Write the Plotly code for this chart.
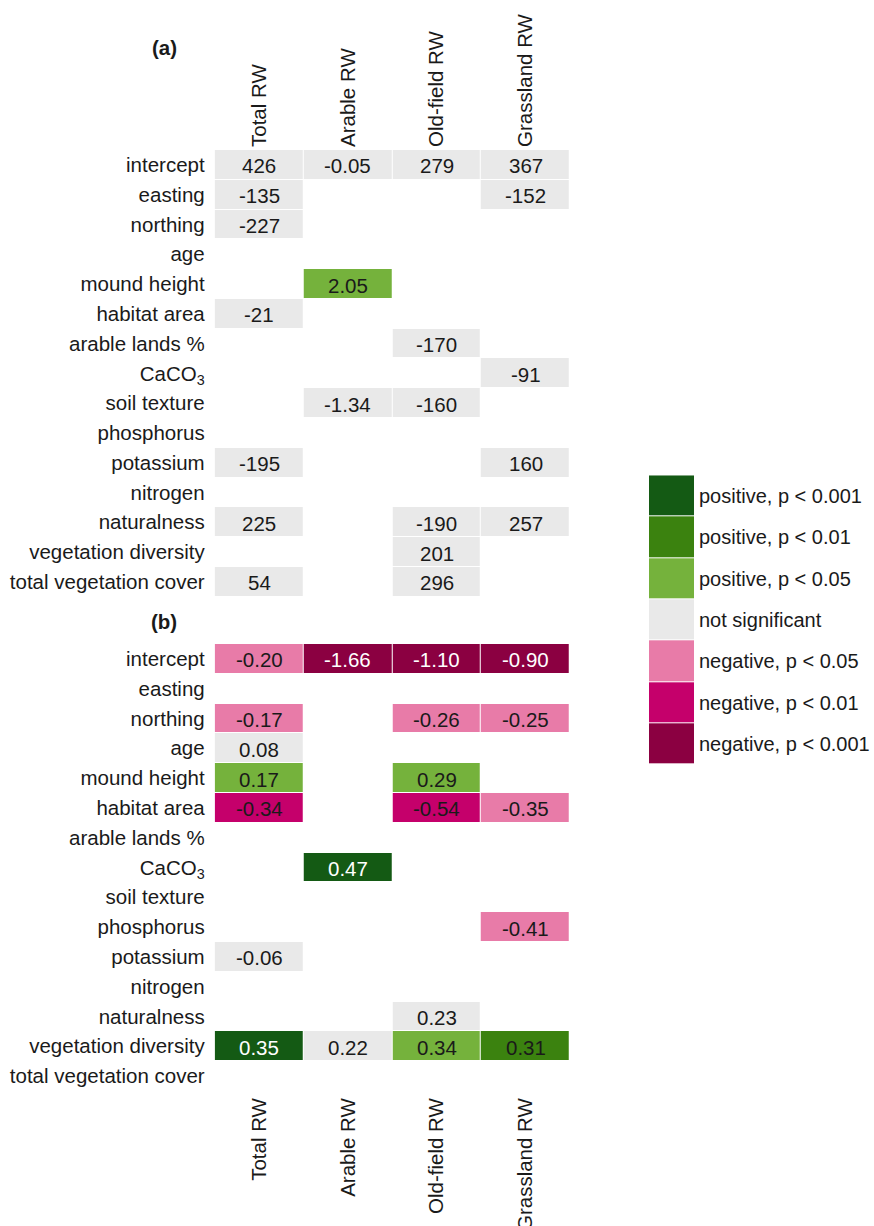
import plotly.graph_objects as go

# Response variables (columns) and model predictors (rows)
responses = ["Total RW", "Arable RW", "Old-field RW", "Grassland RW"]
predictors = [
    "intercept", "easting", "northing", "age", "mound height", "habitat area",
    "arable lands %", "CaCO<sub>3</sub>", "soil texture", "phosphorus",
    "potassium", "nitrogen", "naturalness", "vegetation diversity",
    "total vegetation cover",
]

# Significance classes: sign * level (3: p<0.001, 2: p<0.01, 1: p<0.05, 0: n.s.)
signif_labels = [
    "positive, p < 0.001", "positive, p < 0.01", "positive, p < 0.05",
    "not significant",
    "negative, p < 0.05", "negative, p < 0.01", "negative, p < 0.001",
]
signif_codes = [3, 2, 1, 0, -1, -2, -3]
signif_colors = ["#145a14", "#3b820f", "#75b23c", "#e9e9e9",
                 "#e87ba8", "#c5006b", "#8b0041"]

# Panel (a): model coefficients, None = predictor not retained
a_coef = [
    [426, -0.05, 279, 367],
    [-135, None, None, -152],
    [-227, None, None, None],
    [None, None, None, None],
    [None, 2.05, None, None],
    [-21, None, None, None],
    [None, None, -170, None],
    [None, None, None, -91],
    [None, -1.34, -160, None],
    [None, None, None, None],
    [-195, None, None, 160],
    [None, None, None, None],
    [225, None, -190, 257],
    [None, None, 201, None],
    [54, None, 296, None],
]
a_signif = [
    [0, 0, 0, 0],
    [0, None, None, 0],
    [0, None, None, None],
    [None, None, None, None],
    [None, 1, None, None],
    [0, None, None, None],
    [None, None, 0, None],
    [None, None, None, 0],
    [None, 0, 0, None],
    [None, None, None, None],
    [0, None, None, 0],
    [None, None, None, None],
    [0, None, 0, 0],
    [None, None, 0, None],
    [0, None, 0, None],
]

# Panel (b)
b_coef = [
    [-0.20, -1.66, -1.10, -0.90],
    [None, None, None, None],
    [-0.17, None, -0.26, -0.25],
    [0.08, None, None, None],
    [0.17, None, 0.29, None],
    [-0.34, None, -0.54, -0.35],
    [None, None, None, None],
    [None, 0.47, None, None],
    [None, None, None, None],
    [None, None, None, -0.41],
    [-0.06, None, None, None],
    [None, None, None, None],
    [None, None, 0.23, None],
    [0.35, 0.22, 0.34, 0.31],
    [None, None, None, None],
]
b_signif = [
    [-1, -3, -3, -3],
    [None, None, None, None],
    [-1, None, -1, -1],
    [0, None, None, None],
    [1, None, 1, None],
    [-2, None, -2, -1],
    [None, None, None, None],
    [None, 3, None, None],
    [None, None, None, None],
    [None, None, None, -1],
    [0, None, None, None],
    [None, None, None, None],
    [None, None, 0, None],
    [3, 0, 1, 2],
    [None, None, None, None],
]

W, H = 874, 1226
FONT = "Liberation Sans, Arial, Helvetica, sans-serif"
TXT = "#1a1a1a"
FS = 20.5
FS_KEY = 20

# Discrete colour scale over the ordered codes -3..3
order = sorted(signif_codes)
code_color = dict(zip(signif_codes, signif_colors))
colorscale = []
for i, c in enumerate(order):
    colorscale.append([i / len(order), code_color[c]])
    colorscale.append([(i + 1) / len(order), code_color[c]])


def fmt(v):
    return f"{v:.0f}" if abs(v) >= 10 else f"{v:.2f}"


def px_x(p):
    return p / W


def px_y(p):
    return 1 - p / H


fig = go.Figure()
cell_labels = []


def add_panel(coef, signif, xa, ya):
    fig.add_trace(go.Heatmap(
        x=responses, y=predictors, z=signif,
        zmin=-3.5, zmax=3.5, colorscale=colorscale, showscale=False,
        xgap=1, ygap=1, hoverinfo="skip", xaxis=xa, yaxis=ya,
    ))
    for r, row in enumerate(coef):
        for c, v in enumerate(row):
            if v is None:
                continue
            color = "white" if abs(signif[r][c]) == 3 else TXT
            cell_labels.append(dict(
                x=responses[c], y=predictors[r], xref=xa, yref=ya,
                text=fmt(v), showarrow=False, yshift=-1,
                font=dict(family=FONT, size=FS, color=color),
            ))


add_panel(a_coef, a_signif, "x", "y")
add_panel(b_coef, b_signif, "x2", "y2")

# Legend drawn as a one-column heatmap of the seven classes
fig.add_trace(go.Heatmap(
    x=["key"], y=signif_labels, z=[[c] for c in signif_codes],
    zmin=-3.5, zmax=3.5, colorscale=colorscale, showscale=False,
    ygap=1, hoverinfo="skip", xaxis="x3", yaxis="y3",
))

xdom = [px_x(214.7), px_x(570)]
xr = [-0.5, len(responses) - 0.5]
yr = [len(predictors) - 0.5, -0.5]
cat_x = dict(type="category", categoryorder="array", categoryarray=responses,
             range=xr, showgrid=False, zeroline=False, showline=False,
             ticks="", tickangle=-90,
             tickfont=dict(family=FONT, size=FS, color=TXT))
cat_y = dict(type="category", categoryorder="array", categoryarray=predictors,
             range=yr, showgrid=False, zeroline=False,
             showline=False, ticks="", ticklabelstandoff=9,
             tickfont=dict(family=FONT, size=FS, color=TXT))

panel_tags = [
    dict(text="<b>(a)</b>", x=px_x(164), y=px_y(48), xref="paper",
         yref="paper", showarrow=False, xanchor="center", yanchor="middle",
         font=dict(family=FONT, size=FS, color=TXT)),
    dict(text="<b>(b)</b>", x=px_x(164), y=px_y(621), xref="paper",
         yref="paper", showarrow=False, xanchor="center", yanchor="middle",
         font=dict(family=FONT, size=FS, color=TXT)),
]

fig.update_layout(
    width=W, height=H, autosize=False,
    margin=dict(l=0, r=0, t=0, b=0),
    paper_bgcolor="white", plot_bgcolor="white",
    showlegend=False, template="none",
    font=dict(family=FONT, size=FS, color=TXT),
    xaxis=dict(cat_x, domain=xdom, anchor="y", side="top", ticklabelstandoff=2),
    yaxis=dict(cat_y, domain=[px_y(596.7), px_y(150)], anchor="x"),
    xaxis2=dict(cat_x, domain=xdom, anchor="y2", side="bottom", ticklabelstandoff=2),
    yaxis2=dict(cat_y, domain=[px_y(1091), px_y(644)], anchor="x2"),
    xaxis3=dict(domain=[px_x(649), px_x(694)], anchor="y3", visible=False,
                type="category", range=[-0.5, 0.5]),
    yaxis3=dict(type="category", categoryorder="array",
                categoryarray=signif_labels,
                range=[len(signif_labels) - 0.5, -0.5],
                domain=[px_y(764.7), px_y(475.3)], anchor="x3", side="right",
                showgrid=False, zeroline=False, showline=False, ticks="",
                ticklabelstandoff=4,
                tickfont=dict(family=FONT, size=FS_KEY, color=TXT)),
    annotations=cell_labels + panel_tags,
)

fig.write_html("out.html")
